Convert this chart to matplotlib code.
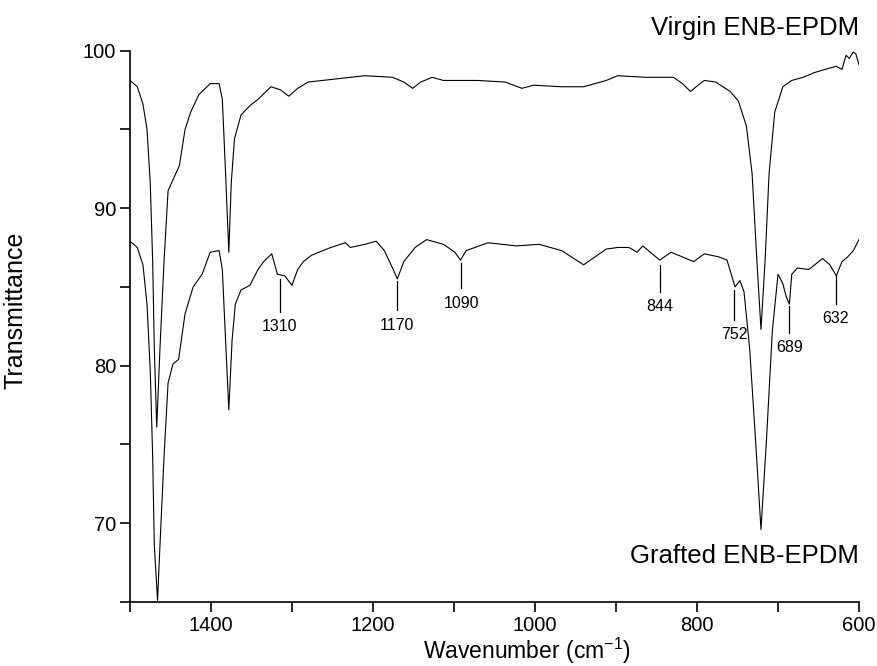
import matplotlib
matplotlib.use("Agg")
import matplotlib.pyplot as plt
from matplotlib.ticker import MultipleLocator

plt.rcParams['font.family'] = ['Liberation Sans', 'DejaVu Sans']
plt.rcParams['mathtext.fontset'] = 'custom'
plt.rcParams['mathtext.rm'] = 'Liberation Sans'

# virgin ENB-EPDM spectrum
virgin_wn = [1500, 1491, 1484, 1479, 1475, 1472, 1470, 1467, 1463, 1458, 1453, 1446, 1439,
             1432, 1425, 1415, 1401, 1390, 1386, 1382, 1378, 1375, 1371, 1363, 1352, 1342,
             1326, 1314, 1304, 1293, 1280, 1245, 1210, 1176, 1162, 1151, 1141, 1127, 1113,
             1071, 1037, 1016, 1002, 967, 940, 926, 912, 898, 863, 829, 818, 808, 801, 791,
             777, 759, 749, 739, 732, 726, 721, 716, 711, 704, 694, 683, 669, 655, 642,
             628, 621, 616, 612, 607, 604, 600]
virgin_t = [98.1, 97.7, 96.6, 95.0, 91.6, 86.6, 81.1, 76.1, 81.1, 86.6, 91.1, 91.9, 92.7,
            95.0, 96.1, 97.2, 97.9, 97.9, 96.9, 92.2, 87.2, 91.6, 94.4, 95.9, 96.5, 96.9,
            97.7, 97.5, 97.1, 97.6, 98.0, 98.2, 98.4, 98.3, 98.0, 97.6, 98.0, 98.3, 98.1,
            98.1, 98.0, 97.6, 97.8, 97.7, 97.7, 97.9, 98.1, 98.4, 98.3, 98.3, 97.9, 97.4,
            97.7, 98.1, 98.0, 97.4, 96.8, 95.2, 92.2, 86.6, 82.3, 86.6, 92.2, 96.1, 97.7,
            98.1, 98.3, 98.6, 98.8, 99.0, 98.8, 99.7, 99.5, 99.9, 99.8, 99.1]

# grafted ENB-EPDM spectrum
grafted_wn = [1500, 1491, 1484, 1479, 1475, 1472, 1470, 1466, 1463, 1458, 1453, 1447, 1440,
              1432, 1422, 1411, 1401, 1390, 1386, 1382, 1378, 1374, 1370, 1363, 1352, 1342,
              1335, 1325, 1318, 1309, 1300, 1293, 1286, 1276, 1262, 1252, 1234, 1228, 1210,
              1196, 1186, 1175, 1170, 1162, 1148, 1134, 1113, 1099, 1092, 1085, 1058, 1023,
              995, 967, 940, 926, 912, 898, 884, 874, 867, 846, 832, 818, 804, 791, 773,
              763, 756, 753, 747, 742, 735, 728, 721, 714, 707, 700, 694, 690, 686, 683,
              676, 662, 645, 636, 628, 621, 614, 607, 600]
grafted_t = [87.9, 87.5, 86.4, 83.9, 79.7, 74.2, 68.6, 65.1, 68.6, 74.2, 78.9, 80.1, 80.4,
             83.3, 85.0, 85.8, 87.2, 87.3, 86.1, 81.6, 77.2, 81.6, 83.9, 84.8, 85.1, 86.1,
             86.6, 87.1, 85.8, 85.7, 85.1, 86.1, 86.6, 87.0, 87.3, 87.5, 87.8, 87.5, 87.7,
             87.9, 87.3, 86.1, 85.5, 86.6, 87.5, 88.0, 87.7, 87.2, 86.7, 87.3, 87.8, 87.6,
             87.7, 87.3, 86.4, 86.9, 87.4, 87.5, 87.5, 87.2, 87.6, 86.7, 87.2, 86.9, 86.6,
             87.1, 86.9, 86.7, 85.5, 85.0, 85.4, 84.7, 81.1, 75.5, 69.6, 75.5, 82.2, 85.8,
             85.2, 84.4, 83.9, 85.8, 86.2, 86.1, 86.8, 86.4, 85.7, 86.6, 86.9, 87.3, 88.0]

# marked peaks on the grafted curve
peak_labels = ['1310', '1170', '1090', '844', '752', '689', '632']
peak_wn = [1315, 1170, 1091, 846, 754, 686, 629]
peak_top = [85.5, 85.4, 86.5, 86.4, 84.8, 83.8, 85.7]
peak_bottom = [83.4, 83.5, 84.9, 84.7, 82.9, 82.1, 83.9]

fig = plt.figure(figsize=(8.78, 6.66), dpi=100)
ax = fig.add_axes([130/878, 1 - 602/666, 729/878, 583/666])

ax.plot(virgin_wn, virgin_t, color='k', lw=0.8)
ax.plot(grafted_wn, grafted_t, color='k', lw=0.8)

for lab, x, y0, y1 in zip(peak_labels, peak_wn, peak_top, peak_bottom):
    ax.plot([x, x], [y0, y1], color='k', lw=0.9)
    ax.text(x, y1 - 0.45, lab, ha='center', va='top', fontsize=11.5)

ax.text(600, 101.4, 'Virgin ENB-EPDM', ha='right', va='center', fontsize=18.5, clip_on=False)
ax.text(600, 67.9, 'Grafted ENB-EPDM', ha='right', va='center', fontsize=18.5)

ax.set_xlim(1500, 600)
ax.set_ylim(65, 102)
ax.spines['top'].set_visible(False)
ax.spines['right'].set_visible(False)
ax.spines['left'].set_bounds(65, 100)
for s in ['left', 'bottom']:
    ax.spines[s].set_linewidth(1.2)

ax.xaxis.set_major_locator(MultipleLocator(200))
ax.xaxis.set_minor_locator(MultipleLocator(100))
ax.set_yticks([70, 80, 90, 100])
ax.yaxis.set_minor_locator(MultipleLocator(5))
ax.tick_params(which='both', direction='out', length=7, width=1.2, labelsize=14.5, pad=3)

ax.set_xlabel('Wavenumber (cm$^{-1}$)', fontsize=16.5)
ax.xaxis.set_label_coords((527 - 130) / 729, -0.058)
ax.set_ylabel('Transmittance', fontsize=18)
ax.yaxis.set_label_coords(-0.14, 0.5)

fig.savefig('out.png', dpi=100)
